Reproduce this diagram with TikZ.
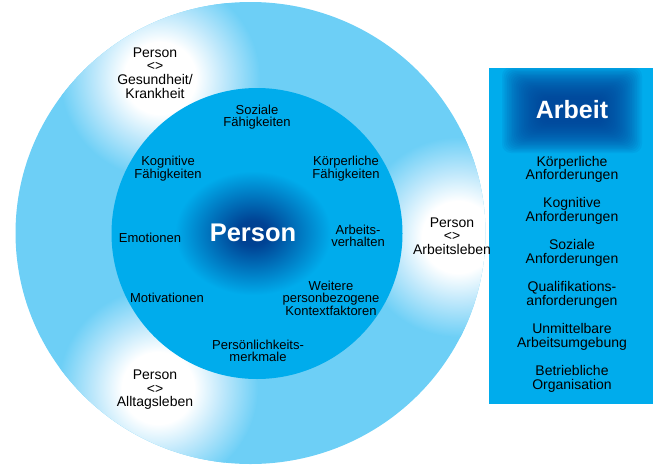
\documentclass[tikz,border=0pt]{standalone}
\usepackage{fontspec}
\setmainfont{Liberation Sans}
\definecolor{ringblue}{RGB}{109,207,246}
\definecolor{pcyan}{RGB}{0,172,236}
\definecolor{pdark}{RGB}{0,64,150}
\pgfdeclareradialshading{glowW}{\pgfpoint{0bp}{0bp}}{rgb(0bp)=(1,1,1); rgb(9bp)=(1,1,1); rgb(16bp)=(0.75,0.91,0.985); rgb(25bp)=(0.427,0.812,0.965); rgb(50bp)=(0.427,0.812,0.965)}
\pgfdeclareradialshading{glowP}{\pgfpoint{0bp}{0bp}}{rgb(0bp)=(0,0.24,0.56); rgb(5bp)=(0,0.26,0.58); rgb(25bp)=(0,0.674,0.925); rgb(50bp)=(0,0.674,0.925)}
\tikzset{
  inlbl/.style={align=center, inner sep=0pt, text=black, font=\fontsize{13}{11.8}\selectfont},
  outlbl/.style={align=center, inner sep=0pt, text=black, font=\fontsize{14}{13.6}\selectfont},
  boxlbl/.style={align=center, inner sep=0pt, text=black, font=\fontsize{14}{13.3}\selectfont},
  biglbl/.style={inner sep=0pt, text=white, font=\bfseries\fontsize{25.5}{28}\selectfont},
}
\begin{document}
\begin{tikzpicture}[x=1pt,y=-1pt]
\useasboundingbox (0,0) rectangle (670,472);
% outer ring
\fill[ringblue] (250.5,233) ellipse [x radius=235pt, y radius=231pt];
\begin{scope}
  \clip (250.5,233) ellipse [x radius=235pt, y radius=231pt];
  \shade[shading=glowW] (160,78) circle (100pt);
  \shade[shading=glowW] (158,388) circle (100pt);
  \shade[shading=glowW] (458,237) circle (100pt);
\end{scope}
% inner circle
\fill[pcyan] (257,233.5) circle (145.5pt);
\begin{scope}
  \clip (257,233.5) circle (145.5pt);
  \shade[shading=glowP] (253,233) ellipse [x radius=78pt, y radius=62pt];
\end{scope}
% right box
\fill[pcyan] (489,68) rectangle (653,404);
\begin{scope}
  \clip (489,68) rectangle (653,404);
  \foreach \i in {0,...,23} {
    \fill[pdark, opacity=0.08, rounded corners=9pt]
      ({572-70+1.7*\i},{110-43+1.35*\i}) rectangle ({572+70-1.7*\i},{110+43-1.35*\i});
  }
\end{scope}
% texts
\node[biglbl] (person) at (253,233) {Person};
\node[biglbl, font=\bfseries\fontsize{25}{28}\selectfont] (arbeit) at (572,110) {Arbeit};
\node[outlbl] (gk) at (155,73) {Person\\<>\\Gesundheit/\\Krankheit};
\node[outlbl] (al) at (155,390) {Person\\<>\\Alltagsleben};
\node[outlbl] (ar) at (452,236) {Person\\<>\\Arbeitsleben};
\node[inlbl] (sf) at (257,117.5) {Soziale\\Fähigkeiten};
\node[inlbl] (kf) at (168,169) {Kognitive\\Fähigkeiten};
\node[inlbl] (kpf) at (346,169) {Körperliche\\Fähigkeiten};
\node[inlbl] (em) at (150,238) {Emotionen};
\node[inlbl] (av) at (358,236) {Arbeits-\\verhalten};
\node[inlbl] (mo) at (167,298) {Motivationen};
\node[inlbl] (wk) at (331,298.5) {Weitere\\personbezogene\\Kontextfaktoren};
\node[inlbl] (pm) at (258,351) {Persönlichkeits-\\merkmale};
\node[boxlbl] (b1) at (572,169.5) {Körperliche\\Anforderungen};
\node[boxlbl] (b2) at (572,211) {Kognitive\\Anforderungen};
\node[boxlbl] (b3) at (572,253) {Soziale\\Anforderungen};
\node[boxlbl] (b4) at (572,295) {Qualifikations-\\anforderungen};
\node[boxlbl] (b5) at (572,337) {Unmittelbare\\Arbeitsumgebung};
\node[boxlbl] (b6) at (572,379) {Betriebliche\\Organisation};
\end{tikzpicture}
\end{document}
